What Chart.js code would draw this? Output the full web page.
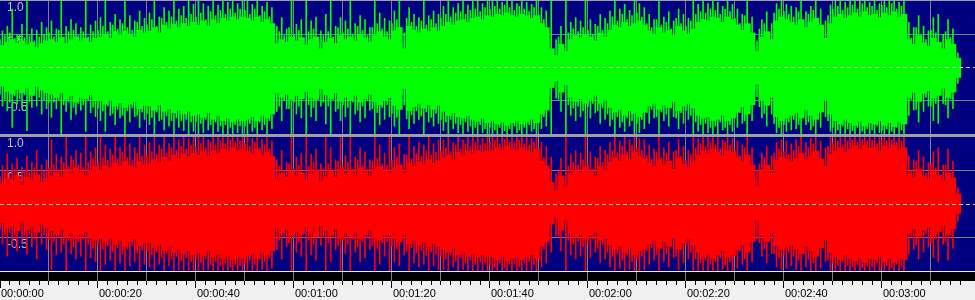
<!DOCTYPE html>
<html>
<head>
<meta charset="utf-8">
<script src="https://cdn.jsdelivr.net/npm/chart.js@4.4.1/dist/chart.umd.min.js"></script>
<style>
  body { margin: 0; background: #f0f0f0; width: 975px; height: 300px; overflow: hidden; position: relative; }
  #frame { position: absolute; left: 0; top: 0; width: 975px; height: 137px; background: #a0a0a0; }
  canvas { position: absolute; left: 0; }
  #left { top: 1px; }
  #right { top: 137px; }
  #time { top: 271px; }
</style>
</head>
<body>
<div id="frame"></div>
<canvas id="left" width="975" height="133"></canvas>
<canvas id="right" width="975" height="134"></canvas>
<canvas id="time" width="975" height="29"></canvas>
<script>
// visible time window, seconds
var xMax = 199;

// amplitude per second, in hundredths of full scale
// left channel (green): dense body top / bottom, tallest spike, secondary spike
var gHi = [33,38,42,36,40,34,38,30,36,40, 42,38,45,36,42,46,40,44,38,44,
  46,50,44,54,48,55,50,46,56,52, 55,60,52,64,58,65,60,66,62,68,
  64,70,62,72,66,74,70,76,72,76, 74,70,76,68,72,66,36,42,38,46,
  40,45,34,42,46,28,38,44,36,48, 42,46,40,50,44,38,48,54,46,42,
  55,60,28,62,56,52,58,54,60,55, 62,68,64,70,72,68,74,76,72,78,
  76,80,78,82,78,76,80,78,74,78, 66,60,28,18,35,24,42,48,44,50,
  46,40,52,46,56,64,60,68,62,66, 70,64,55,50,60,52,56,48,62,55,
  50,58,68,72,70,76,74,68,76,72, 64,56,66,52,24,46,54,42,70,76,
  72,68,64,72,60,68,74,64,44,66, 76,80,74,78,82,76,84,78,80,75,
  82,78,84,76,80,42,35,48,37,32, 44,38,28,42,35,14];
var gHiSpk = [55,62,88,50,65,100,58,56,68,60, 70,58,100,62,72,66,60,100,64,70,
  75,100,68,80,72,100,78,70,85,74, 82,100,76,90,85,100,88,92,100,95,
  100,96,92,100,94,100,98,100,96,100, 100,95,100,92,98,90,62,75,58,100,
  65,72,100,70,76,55,80,100,62,75, 70,100,66,78,72,60,100,82,74,70,
  85,100,52,90,80,75,100,78,85,80, 92,100,90,96,100,94,100,100,96,100,
  100,100,98,100,100,96,100,98,95,100, 90,85,100,42,62,100,68,75,70,100,
  72,65,80,74,85,100,88,95,86,100, 96,90,80,72,100,76,84,70,88,80,
  74,100,95,100,96,100,98,92,100,95, 88,80,100,76,40,72,84,66,96,100,
  95,92,90,100,84,92,100,88,70,94, 100,100,98,100,100,100,100,98,100,96,
  100,100,100,98,100,68,60,78,62,55, 75,80,50,72,58,22];
var gHiMid = [42,48,52,44,50,45,48,40,46,50, 52,46,56,46,54,56,48,54,46,54,
  56,62,54,64,58,66,60,56,68,62, 64,72,62,74,68,76,70,78,74,80,
  76,82,72,84,78,86,80,88,82,88, 86,80,88,78,84,76,46,54,48,60,
  50,56,44,54,58,38,48,54,46,60, 52,58,50,62,56,48,60,66,58,54,
  66,72,38,74,68,62,70,64,72,66, 74,80,76,82,84,80,86,88,84,90,
  88,92,88,94,90,86,92,88,84,90, 78,72,42,28,46,34,52,58,54,60,
  56,50,62,56,66,76,70,80,72,78, 82,76,66,60,72,64,68,58,74,66,
  62,70,80,84,82,88,86,80,88,84, 74,66,78,64,32,58,66,52,82,88,
  84,80,76,84,70,80,86,74,56,78, 88,92,86,90,94,88,96,90,92,86,
  94,90,96,88,92,52,44,60,48,42, 56,52,38,54,45,17];
var gLo = [28,36,40,33,38,30,42,28,34,38, 40,45,38,48,42,52,45,47,41,50,
  50,55,48,58,53,60,55,51,62,57, 58,64,56,66,62,68,64,70,66,72,
  70,75,68,78,72,80,76,82,78,80, 78,74,80,72,76,70,38,45,40,48,
  42,47,36,45,48,32,41,47,38,51, 45,49,42,52,47,40,51,56,49,45,
  57,63,32,65,59,54,61,56,63,57, 66,72,68,74,76,72,78,81,76,83,
  80,85,82,87,83,80,85,82,78,83, 70,64,30,20,37,26,45,51,47,54,
  48,42,54,48,60,67,63,72,65,69, 74,67,58,54,63,56,60,51,65,58,
  54,61,72,76,74,80,78,72,80,76, 67,59,70,56,25,48,57,45,74,80,
  76,72,68,76,63,72,78,67,48,70, 80,85,78,83,87,81,88,83,85,80,
  87,83,89,81,85,45,37,51,39,35, 46,42,31,45,37,15];
var gLoSpk = [58,65,90,55,62,95,60,58,70,62, 75,62,100,66,78,70,64,96,68,74,
  80,96,72,86,76,100,82,74,90,78, 86,100,80,94,88,100,90,95,100,96,
  100,98,94,100,96,100,100,100,98,100, 100,96,100,94,100,92,66,80,62,100,
  70,76,100,74,80,58,85,100,66,80, 74,100,70,82,76,64,100,86,78,74,
  88,100,56,92,84,78,100,82,88,84, 95,100,92,98,100,96,100,100,98,100,
  100,100,100,100,100,98,100,100,96,100, 92,88,100,46,66,100,72,80,74,100,
  76,68,84,78,88,100,90,96,88,100, 98,92,84,76,100,80,88,74,92,84,
  78,100,96,100,98,100,100,94,100,96, 90,84,100,80,44,76,88,70,98,100,
  96,94,92,100,86,94,100,90,74,96, 100,100,100,100,100,100,100,100,100,98,
  100,100,100,100,100,72,64,82,66,58, 80,84,54,76,62,24];
var gLoMid = [40,48,52,43,47,41,51,39,45,49, 52,52,49,56,52,60,54,56,50,60,
  61,65,58,69,63,72,65,61,72,67, 69,75,67,78,73,80,76,80,78,82,
  82,84,78,86,82,88,86,90,86,88, 88,84,90,82,86,80,48,58,50,62,
  52,58,46,56,60,42,52,58,48,62, 56,60,52,64,58,50,62,68,60,56,
  69,75,42,77,71,65,73,67,75,69, 78,82,78,84,86,82,88,90,86,92,
  90,94,90,95,92,88,94,90,86,92, 80,74,43,30,48,37,56,61,58,65,
  59,54,65,61,70,78,74,82,76,80, 84,78,68,63,74,67,70,61,76,68,
  65,72,82,86,84,90,88,82,90,86, 76,68,80,67,34,59,69,56,84,90,
  86,82,78,86,72,82,88,76,60,80, 90,94,88,92,95,90,96,92,94,88,
  95,92,96,90,94,56,48,63,50,45, 58,54,41,56,47,19];

// right channel (red)
var rHi = [30,38,34,42,28,40,36,44,32,38, 42,47,40,52,45,54,47,42,50,56,
  51,57,54,61,56,64,57,54,63,59, 60,66,62,70,64,73,68,75,71,76,
  73,78,71,80,76,82,78,84,80,82, 78,75,82,73,77,71,38,45,40,49,
  42,47,36,45,51,34,41,49,40,52, 45,51,42,54,47,41,52,56,49,47,
  54,58,47,61,56,63,59,66,61,65, 69,73,66,77,72,79,75,80,77,79,
  80,84,79,86,82,80,84,79,77,82, 64,57,32,20,42,26,45,51,47,54,
  48,42,56,50,62,69,64,73,66,77, 71,68,61,56,66,58,64,52,69,59,
  54,63,73,79,75,82,77,72,80,77, 70,63,73,58,26,49,58,45,65,70,
  67,63,68,75,65,72,79,67,56,74, 79,84,77,82,87,81,88,83,84,79,
  87,83,88,81,84,45,39,51,41,37, 48,43,34,46,39,15];
var rHiSpk = [58,75,60,68,55,72,62,80,58,66, 96,74,70,100,72,80,76,100,78,84,
  100,88,82,100,85,100,90,84,100,88, 92,100,88,100,90,100,96,100,98,100,
  100,100,96,100,100,100,100,100,100,100, 100,98,100,96,100,94,66,80,62,100,
  70,76,100,74,82,60,100,84,66,100, 72,100,70,84,78,66,100,88,76,100,
  84,90,74,100,86,92,88,100,90,96, 96,100,92,100,96,100,100,100,98,100,
  100,100,100,100,100,100,100,100,98,100, 92,86,70,45,68,100,74,80,76,100,
  78,70,86,80,92,100,94,100,96,100, 98,96,88,82,100,84,92,78,96,86,
  80,100,98,100,100,100,100,96,100,98, 94,88,100,84,50,76,86,72,92,96,
  94,90,96,100,92,98,100,94,84,100, 100,100,100,100,100,100,100,100,100,100,
  100,100,100,100,100,72,66,80,70,62, 78,84,58,82,64,24];
var rHiMid = [41,49,45,52,39,50,47,54,43,49, 54,58,50,62,56,66,58,54,62,68,
  63,69,65,73,67,77,69,65,75,71, 72,78,74,82,76,84,80,86,82,88,
  85,90,84,92,88,94,90,96,92,94, 90,86,92,84,88,82,48,56,50,60,
  52,58,46,56,62,44,52,60,50,64, 56,62,52,66,58,52,64,68,60,58,
  65,69,58,73,67,75,71,79,73,77, 80,84,78,88,82,90,86,92,88,90,
  92,95,90,96,92,92,95,90,88,92, 76,69,45,30,52,37,56,62,58,66,
  60,52,68,62,74,80,76,86,78,88, 84,80,72,67,78,69,76,63,80,71,
  65,74,84,90,86,92,88,82,92,88, 80,72,84,69,35,60,69,56,76,82,
  78,74,80,86,76,84,90,78,67,86, 90,94,88,94,96,92,96,94,95,90,
  96,94,96,92,94,56,50,63,52,46, 60,54,43,58,48,18];
var rLo = [28,36,32,40,26,38,34,42,30,36, 40,45,38,49,43,52,45,41,49,54,
  49,56,51,60,54,63,56,52,62,58, 58,65,61,69,63,72,67,74,70,76,
  72,77,70,79,75,81,77,83,79,81, 77,74,81,72,76,70,36,43,38,47,
  41,45,34,43,49,32,39,47,38,51, 43,49,41,52,45,39,51,54,47,45,
  52,56,45,59,54,61,57,64,59,63, 67,72,65,76,70,78,74,79,76,78,
  79,83,78,85,81,79,83,78,76,81, 63,56,30,19,39,24,43,49,45,52,
  47,41,54,48,61,67,63,72,65,76, 70,67,59,54,65,56,63,50,67,58,
  52,61,72,78,74,81,76,70,79,76, 68,61,72,56,24,47,56,43,63,68,
  65,61,67,74,63,70,78,65,54,72, 78,83,76,81,85,80,87,81,83,78,
  86,81,87,80,83,43,37,48,39,35, 46,41,32,45,37,14];
var rLoSpk = [60,78,62,70,58,75,64,82,60,68, 98,76,72,100,74,82,78,100,80,86,
  100,90,84,100,88,100,92,86,100,90, 94,100,90,100,92,100,98,100,100,100,
  100,100,98,100,100,100,100,100,100,100, 100,100,100,98,100,96,68,82,64,100,
  72,78,100,76,84,62,100,86,68,100, 74,100,72,86,80,68,100,90,78,100,
  86,92,76,100,88,94,90,100,92,98, 98,100,94,100,98,100,100,100,100,100,
  100,100,100,100,100,100,100,100,100,100, 94,88,72,48,70,100,76,82,78,100,
  80,72,88,82,94,100,96,100,98,100, 100,98,90,84,100,86,94,80,98,88,
  82,100,100,100,100,100,100,98,100,100, 96,90,100,86,52,78,88,74,94,98,
  96,92,98,100,94,100,100,96,86,100, 100,100,100,100,100,100,100,100,100,100,
  100,100,100,100,100,74,68,82,72,64, 80,86,60,84,66,26];
var rLoMid = [39,47,43,50,37,48,45,52,41,47, 52,56,48,60,54,64,56,52,60,66,
  61,67,63,71,65,75,67,63,73,69, 70,76,72,80,74,82,78,84,80,86,
  83,88,82,90,86,92,88,94,90,92, 88,84,90,82,86,80,46,54,48,58,
  50,56,44,54,60,42,50,58,48,62, 54,60,52,64,56,50,62,66,58,56,
  63,67,56,71,65,73,69,77,71,75, 78,82,76,86,80,88,84,90,86,88,
  90,94,88,95,90,90,94,88,86,90, 74,67,43,28,50,35,54,60,56,64,
  58,52,66,60,72,78,74,84,76,86, 82,78,70,65,76,67,74,61,78,69,
  63,72,82,88,84,90,86,80,90,86, 78,70,82,67,34,58,67,54,74,80,
  76,72,78,84,74,82,88,76,65,84, 88,92,86,92,94,90,95,92,94,88,
  95,92,95,90,92,54,48,61,50,45, 58,52,41,56,47,18];

Chart.defaults.font.family = 'Liberation Sans';
Chart.defaults.font.size = 11;

function toBars(hi, lo, shift) {
  return hi.map(function (h, i) {
    return { x: i + shift, y: [-lo[i] / 100, h / 100] };
  });
}

function clock(s) {
  var m = Math.floor(s / 60), r = s % 60;
  return '00:' + (m < 10 ? '0' : '') + m + ':' + (r < 10 ? '0' : '') + r;
}

function noPad(s) {
  s.paddingTop = 0;
  s.paddingBottom = 0;
  s.paddingLeft = 0;
  s.paddingRight = 0;
}

var panelBg = {
  id: 'panelBg',
  beforeDraw: function (chart, args, opts) {
    var a = chart.chartArea, ctx = chart.ctx;
    ctx.save();
    ctx.fillStyle = opts.color;
    ctx.fillRect(a.left, a.top, a.right - a.left, a.bottom - a.top);
    ctx.restore();
  }
};

var zeroLine = {
  id: 'zeroLine',
  afterDatasetsDraw: function (chart) {
    var ctx = chart.ctx, a = chart.chartArea;
    var y = Math.floor(chart.scales.y.getPixelForValue(0)) + 0.5;
    ctx.save();
    ctx.strokeStyle = '#c8c8c8';
    ctx.lineWidth = 1;
    ctx.setLineDash([4, 3]);
    ctx.beginPath();
    ctx.moveTo(a.left, y);
    ctx.lineTo(a.right, y);
    ctx.stroke();
    ctx.restore();
  }
};

function wavePanel(id, color, hi, lo, hiSpk, loSpk, hiMid, loMid) {
  var ctx = document.getElementById(id).getContext('2d');
  return new Chart(ctx, {
    type: 'bar',
    data: {
      datasets: [{
        data: toBars(hi, lo, 0.5),
        backgroundColor: color,
        barThickness: 6,
        grouped: false
      }, {
        data: toBars(hiSpk, loSpk, 0.5),
        backgroundColor: color,
        barThickness: 1,
        grouped: false
      }, {
        data: toBars(hiMid, loMid, 0),
        backgroundColor: color,
        barThickness: 1,
        grouped: false
      }]
    },
    options: {
      responsive: false,
      animation: false,
      devicePixelRatio: 1,
      layout: { padding: 0 },
      plugins: {
        legend: { display: false },
        tooltip: { enabled: false },
        panelBg: { color: '#000080' }
      },
      scales: {
        x: {
          type: 'linear',
          min: 0,
          max: xMax,
          offset: false,
          grid: {
            offset: false,
            drawTicks: false,
            color: function (c) { return c.tick.value > 0 ? '#808080' : 'rgba(0,0,0,0)'; }
          },
          border: { display: false },
          ticks: { display: false, stepSize: 10 },
          afterFit: function (s) { s.height = 0; noPad(s); }
        },
        y: {
          min: -1,
          max: 1,
          grid: {
            drawTicks: false,
            color: function (c) { return Math.abs(c.tick.value) === 0.5 ? '#808080' : 'rgba(0,0,0,0)'; }
          },
          border: { display: false },
          ticks: { display: false, stepSize: 0.5 },
          afterFit: function (s) { s.width = 0; noPad(s); }
        },
        yl: {
          min: -1,
          max: 1,
          z: 1,
          position: 'left',
          grid: { display: false, drawTicks: false },
          border: { display: false },
          ticks: {
            stepSize: 0.5,
            mirror: true,
            padding: 7,
            labelOffset: 7,
            color: '#c0c0c0',
            font: { size: 12 },
            callback: function (v) { return v <= -1 ? null : v.toFixed(1); }
          },
          afterFit: function (s) { s.width = 0; noPad(s); }
        }
      }
    },
    plugins: [panelBg, zeroLine]
  });
}

wavePanel('left', '#00ff00', gHi, gLo, gHiSpk, gLoSpk, gHiMid, gLoMid);
wavePanel('right', '#ff0000', rHi, rLo, rHiSpk, rLoSpk, rHiMid, rLoMid);

new Chart(document.getElementById('time').getContext('2d'), {
  type: 'scatter',
  data: { datasets: [] },
  options: {
    responsive: false,
    animation: false,
    devicePixelRatio: 1,
    layout: { padding: { top: 1 } },
    plugins: {
      legend: { display: false },
      tooltip: { enabled: false },
      panelBg: { color: '#000000' }
    },
    scales: {
      x: {
        type: 'linear',
        position: 'bottom',
        weight: 1,
        min: 0,
        max: xMax,
        grid: {
          color: function (c) { return Math.round(c.tick.value) % 10 === 0 && c.tick.value > 0 ? '#808080' : 'rgba(0,0,0,0)'; },
          tickColor: '#000000',
          tickLength: 4
        },
        border: { display: false },
        ticks: {
          stepSize: 2,
          autoSkip: false,
          maxRotation: 0,
          align: 'start',
          labelOffset: 1,
          padding: 2,
          color: '#000000',
          callback: function (v) { return Math.round(v) % 20 === 0 ? clock(Math.round(v)) : ''; }
        },
        afterFit: function (s) { s.height = 19; noPad(s); }
      },
      x2: {
        type: 'linear',
        position: 'bottom',
        weight: 0,
        min: 0,
        max: xMax,
        grid: { drawOnChartArea: false, tickLength: 7, tickColor: '#000000' },
        border: { display: false },
        ticks: { stepSize: 20, display: false },
        afterFit: function (s) { s.height = 0; noPad(s); }
      },
      y: { display: false, min: 0, max: 1 }
    }
  },
  plugins: [panelBg]
});
</script>
</body>
</html>
